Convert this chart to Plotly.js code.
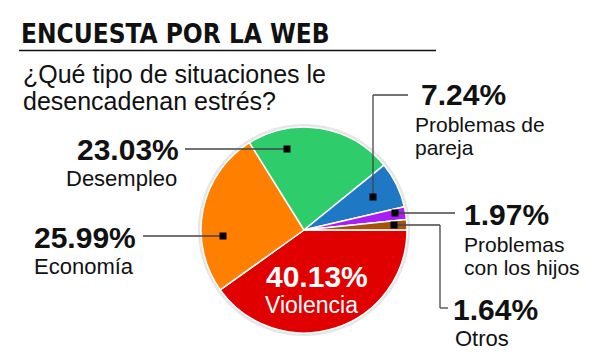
<!DOCTYPE html>
<html>
<head>
<meta charset="utf-8">
<script src="https://cdn.plot.ly/plotly-3.0.1.min.js"></script>
<style>html,body{margin:0;padding:0;background:#fff}#chart{width:600px;height:362px}</style>
</head>
<body>
<div id="chart"></div>
<script>
// Data
var categories = ["Violencia", "Economía", "Desempleo", "Problemas de pareja", "Problemas con los hijos", "Otros"];
var values = [40.13, 25.99, 23.03, 7.24, 1.97, 1.64];
var colors = ["#e10000", "#ff7f00", "#2ecc6b", "#1f78c3", "#a81ff5", "#a3540c"];
var pctLabels = ["40.13%", "25.99%", "23.03%", "7.24%", "1.97%", "1.64%"];
var nameLines = [["Violencia"], ["Economía"], ["Desempleo"], ["Problemas de", "pareja"], ["Problemas", "con los hijos"], ["Otros"]];
var titleText = "ENCUESTA POR LA WEB";
var questionLines = ["¿Qué tipo de situaciones le", "desencadenan estrés?"];

var W = 600, H = 362;
function px(x) { return x / W; }
function py(y) { return 1 - y / H; }

var cx = 304, cy = 230, r = 103;
var FONT = "Liberation Sans, Arial, sans-serif";

var traces = [
  {
    type: "pie",
    values: [1],
    marker: {colors: ["rgba(0,0,0,0.10)"], line: {width: 0}},
    textinfo: "none", hoverinfo: "skip", showlegend: false, sort: false,
    domain: {x: [px(cx - r - 3), px(cx + r + 3)], y: [py(cy + r + 3), py(cy - r - 3)]}
  },
  {
    type: "pie",
    labels: categories,
    values: values,
    sort: false,
    direction: "clockwise",
    rotation: 90,
    marker: {colors: colors, line: {color: "#ffffff", width: 1.5}},
    textinfo: "none",
    showlegend: false,
    domain: {x: [px(cx - r), px(cx + r)], y: [py(cy + r), py(cy - r)]}
  }
];

var ann = [];
function txt(t, x, yBase, size, bold, anchor, color, family) {
  ann.push({
    text: bold ? "<b>" + t + "</b>" : t,
    x: px(x), y: py(yBase - 0.36 * size), xref: "paper", yref: "paper",
    xanchor: anchor, yanchor: "middle", showarrow: false,
    font: {family: family || FONT, size: size, color: color || "#111"}
  });
}
// Title and question
txt(titleText, 19, 43.5, 26, true, "left", "#111", "DejaVu Sans Condensed, Liberation Sans, sans-serif");
txt(questionLines[0], 21, 83, 25, false, "left");
txt(questionLines[1], 21, 110, 25, false, "left");

// Violencia (inside)
txt(pctLabels[0], 317, 287, 30, true, "center", "#ffffff");
txt(nameLines[0][0], 311, 313, 23, false, "center", "#ffffff");
// Economía
txt(pctLabels[1], 138, 248, 30, true, "right");
txt(nameLines[1][0], 136, 274, 22, false, "right");
// Desempleo
txt(pctLabels[2], 181, 160, 30, true, "right");
txt(nameLines[2][0], 179, 186, 22, false, "right");
// Pareja
txt(pctLabels[3], 419, 105, 30, true, "left");
txt(nameLines[3][0], 413, 132, 21, false, "left");
txt(nameLines[3][1], 413, 155, 21, false, "left");
// Hijos
txt(pctLabels[4], 462, 225, 30, true, "left");
txt(nameLines[4][0], 462, 252, 21, false, "left");
txt(nameLines[4][1], 462, 275, 21, false, "left");
// Otros
txt(pctLabels[5], 451, 320, 30, true, "left");
txt(nameLines[5][0], 453, 346, 22, false, "left");

var shapes = [];
function seg(x0, y0, x1, y1, w, c) {
  shapes.push({type: "line", xref: "paper", yref: "paper", x0: px(x0), y0: py(y0), x1: px(x1), y1: py(y1),
    line: {color: c || "#444", width: w || 1.3}});
}
function sq(x, y) {
  shapes.push({type: "rect", xref: "paper", yref: "paper", x0: px(x - 3.5), x1: px(x + 3.5), y0: py(y + 3.5), y1: py(y - 3.5),
    fillcolor: "#000", line: {width: 0}});
}
// title rule
seg(19, 50.5, 436, 50.5, 1.6, "#111");
// leaders
seg(185, 149, 287, 149); sq(287, 149);
seg(143, 236, 223, 236); sq(223, 236);
seg(373, 197, 373, 95); seg(373, 95, 408, 95); sq(373, 197);
seg(395, 213, 455, 213); sq(395, 213);
seg(394, 225, 440, 225); seg(440, 225, 440, 308); seg(440, 308, 448, 308); sq(394, 225);

Plotly.newPlot("chart", traces, {
  width: W, height: H,
  margin: {l: 0, r: 0, t: 0, b: 0},
  paper_bgcolor: "#fff", plot_bgcolor: "#fff",
  annotations: ann, shapes: shapes
}, {displayModeBar: false, staticPlot: true});
</script>
</body>
</html>
